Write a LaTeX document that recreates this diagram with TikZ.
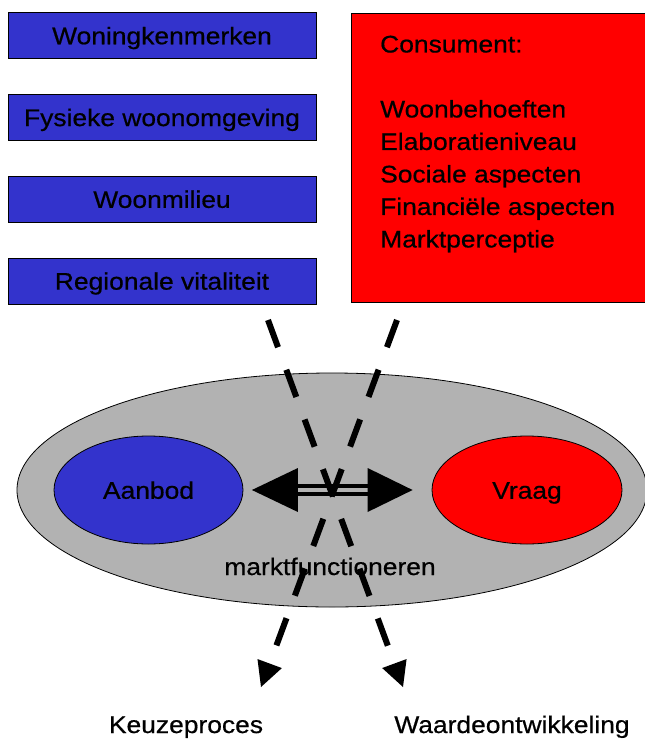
\documentclass[tikz,border=0pt]{standalone}
\usepackage{fontspec}
\setmainfont{Liberation Sans}[FakeStretch=1.1,FakeBold=0.6]
\usepackage{tikz}
\usetikzlibrary{shapes,arrows.meta,positioning}
\definecolor{blauw}{RGB}{51,51,204}
\definecolor{rood}{RGB}{255,0,0}
\definecolor{grijs}{RGB}{178,178,178}
\tikzstyle{tekst} = [font=\fontsize{24}{32.5}\selectfont, text height=17.5pt, text depth=0pt]
\tikzstyle{kenmerk} = [tekst, draw=black, fill=blauw, rectangle, minimum width=308pt, minimum height=46pt, inner sep=0pt, line width=0.8pt]
\tikzstyle{consumentbox} = [draw=black, fill=rood, rectangle, anchor=north west, minimum width=300pt, minimum height=289pt, inner sep=0pt, line width=0.8pt]
\tikzstyle{bol} = [tekst, draw=black, ellipse, inner sep=0pt, line width=0.8pt]
\tikzstyle{stippel} = [line width=6pt, dash pattern=on 29pt off 24pt, -{Triangle[length=25pt,width=26pt,line width=0pt]}]
\begin{document}
\begin{tikzpicture}[x=1pt,y=-1pt]
					\useasboundingbox (0,0) rectangle (645,742);
					\node [kenmerk] (woning) at (162,35.5) {Woningkenmerken};
					\node [kenmerk, below=35pt of woning] (fysiek) {Fysieke woonomgeving};
					\node [kenmerk, below=35pt of fysiek] (milieu) {Woonmilieu};
					\node [kenmerk, below=35pt of milieu] (regio) {Regionale vitaliteit};
					\node [consumentbox] (consument) at (351,13) {};
					\node [font=\fontsize{24}{32.5}\selectfont, align=left, anchor=north west, inner sep=0pt] (behoeften) at (380,35.5) {%
						Consument:\\[32.5pt]
						Woonbehoeften\\
						Elaboratieniveau\\
						Sociale aspecten\\
						Financiële aspecten\\
						Marktperceptie};
					\node [bol, fill=grijs, minimum width=630pt, minimum height=234pt] (woningmarkt) at (332,490) {};
					\node [bol, fill=blauw, minimum width=189pt, minimum height=108pt] (aanbod) at (148.5,490) {Aanbod};
					\node [bol, fill=rood, minimum width=190pt, minimum height=108pt] (vraag) at (527,490) {Vraag};
					\node [tekst, anchor=base] (markt) at (330,575) {marktfunctioneren};
					\draw [line width=4pt, double=grijs, double distance=4pt, {Triangle[length=46pt,width=44pt,line width=0pt]}-{Triangle[length=45pt,width=44pt,line width=0pt]}, shorten <=8.5pt, shorten >=19pt] (aanbod) -- (vraag);
					\node [tekst, anchor=base] (keuze) at (186,733) {Keuzeproces};
					\node [tekst, anchor=base] (waarde) at (512,733) {Waardeontwikkeling};
					\coordinate (van1) at (268,320);
					\coordinate (naar1) at (403,687);
					\coordinate (van2) at (397,320);
					\coordinate (naar2) at (261,687);
					\draw [stippel] (van1) -- (naar1);
					\draw [stippel] (van2) -- (naar2);
\end{tikzpicture}
\end{document}
